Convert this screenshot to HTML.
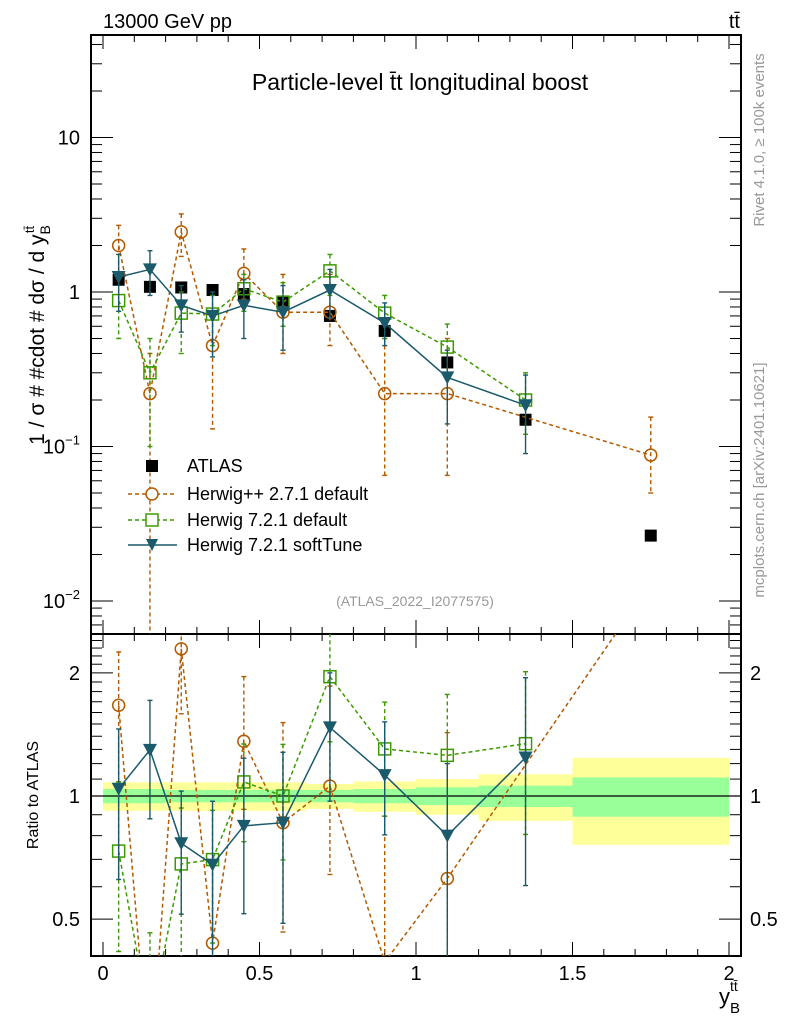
<!DOCTYPE html>
<html><head><meta charset="utf-8"><style>
html,body{margin:0;padding:0;background:#fff;overflow:hidden;width:786px;height:1024px}
svg{display:block}
svg text{font-family:"Liberation Sans",sans-serif}
</style></head><body>
<svg id="c" width="786" height="1024" xmlns="http://www.w3.org/2000/svg">
<rect width="786" height="1024" fill="#fff"/>
<g id="bands"></g><g id="grid"></g><g id="marks"></g>
<text x="103" y="28" font-size="20">13000 GeV pp</text>
<text x="740" y="28" font-size="20" text-anchor="end">tt̄</text>
<text x="420" y="90" font-size="23" text-anchor="middle">Particle-level t̄t longitudinal boost</text>
<text x="415" y="606" font-size="14" fill="#999" text-anchor="middle">(ATLAS_2022_I2077575)</text>
<text transform="translate(44,335) rotate(-90)" font-size="21" text-anchor="middle">1 / σ # #cdot # dσ / d y<tspan font-size="14" dy="6">B</tspan><tspan font-size="13" dy="-16" dx="-8">tt̄</tspan></text>
<text transform="translate(38,795) rotate(-90)" font-size="16" text-anchor="middle">Ratio to ATLAS</text>
<text transform="translate(764,140) rotate(-90)" font-size="15" fill="#999" text-anchor="middle">Rivet 4.1.0, ≥ 100k events</text>
<text transform="translate(764,480) rotate(-90)" font-size="15" fill="#999" text-anchor="middle">mcplots.cern.ch [arXiv:2401.10621]</text>
<text x="740" y="1004" font-size="22" text-anchor="end">y<tspan font-size="15" dy="9">B</tspan><tspan font-size="14" dy="-22" dx="-10">tt̄</tspan></text>
<g id="legend">
<rect x="146" y="460" width="12" height="12" fill="#000"/>
<text x="187" y="472" font-size="18">ATLAS</text>
<line x1="128" y1="494" x2="177" y2="494" stroke="#b35a00" stroke-width="1.4" stroke-dasharray="4,3"/>
<circle cx="152" cy="494" r="6" fill="#fff" stroke="#b35a00" stroke-width="1.5"/>
<text x="187" y="500" font-size="18">Herwig++ 2.7.1 default</text>
<line x1="128" y1="520" x2="177" y2="520" stroke="#3c9a00" stroke-width="1.4" stroke-dasharray="4,3"/>
<rect x="146" y="514" width="12" height="12" fill="#fff" stroke="#3c9a00" stroke-width="1.5"/>
<text x="187" y="526" font-size="18">Herwig 7.2.1 default</text>
<line x1="128" y1="545" x2="177" y2="545" stroke="#1b5a6a" stroke-width="1.6"/>
<path d="M146,539 L158,539 L152,551 Z" fill="#1b5a6a"/>
<text x="187" y="551" font-size="18">Herwig 7.2.1 softTune</text>
</g>
</svg>
<script>
const xs=[0.05,0.15,0.25,0.35,0.45,0.575,0.725,0.9,1.1,1.35,1.75];
const binEdges=[0,0.1,0.2,0.3,0.4,0.5,0.65,0.8,1.0,1.2,1.5,2.0];
const atlas=[1.2,1.08,1.07,1.03,0.97,0.86,0.70,0.56,0.35,0.149,0.0265];
const bandTot=[0.08,0.08,0.08,0.08,0.08,0.08,0.07,0.085,0.10,0.13,0.24];
const bandStat=[0.04,0.04,0.035,0.035,0.035,0.035,0.035,0.04,0.05,0.06,0.11];
const hppX=[0.05,0.15,0.25,0.35,0.45,0.575,0.725,0.9,1.1,1.75];
const hpp=[2.0,0.22,2.45,0.45,1.32,0.74,0.74,0.22,0.22,0.088];
const hppUp=[2.7,0.4,3.2,0.7,1.9,1.3,1.3,0.5,0.5,0.155];
const hppDn=[1.3,0.004,1.7,0.13,0.9,0.4,0.45,0.065,0.065,0.05];
const h7X=[0.05,0.15,0.25,0.35,0.45,0.575,0.725,0.9,1.1,1.35];
const h7=[0.88,0.30,0.73,0.72,1.05,0.86,1.37,0.73,0.44,0.20];
const h7Up=[1.3,0.5,1.0,0.95,1.3,1.15,1.75,0.95,0.62,0.3];
const h7Dn=[0.5,0.1,0.4,0.45,0.75,0.6,0.95,0.5,0.28,0.12];
const stX=[0.05,0.15,0.25,0.35,0.45,0.575,0.725,0.9,1.1,1.35];
const st=[1.25,1.4,0.82,0.70,0.82,0.74,1.03,0.63,0.28,0.185];
const stUp=[1.75,1.85,1.1,1.0,1.2,1.1,1.4,0.85,0.42,0.29];
const stDn=[0.75,0.95,0.55,0.38,0.5,0.42,0.68,0.45,0.14,0.09];
const xTicks=[0,0.5,1,1.5,2];const xTickLabels=["0","0.5","1","1.5","2"];
const NS="http://www.w3.org/2000/svg";
const L=91,R=741,T=35,M=634,B=956;
const X=v=>103+v*313;
const Y=v=>292-154.5*Math.log10(v);
const RY=v=>796-409*Math.log10(v);
function el(tag,a,p){const e=document.createElementNS(NS,tag);for(const k in a)e.setAttribute(k,a[k]);document.getElementById(p).appendChild(e);return e;}
for(let i=0;i<atlas.length;i++){
 const x1=X(binEdges[i]),x2=X(binEdges[i+1]);
 const b=el('rect',{x:x1,y:RY(1+bandTot[i]),width:x2-x1,height:RY(1-bandTot[i])-RY(1+bandTot[i]),fill:'#ffff99'},'bands');
 
 
 const g=el('rect',{x:x1,y:RY(1+bandStat[i]),width:x2-x1,height:RY(1-bandStat[i])-RY(1+bandStat[i]),fill:'#99ff99'},'bands');
 
 
}
el('line',{x1:L,x2:R,y1:RY(1),y2:RY(1),stroke:'#000','stroke-width':1.3},'bands');
for(const [t,b] of [[T,M],[M,B]]) el('rect',{x:L,y:t,width:R-L,height:b-t,fill:'none',stroke:'#000','stroke-width':2},'grid');
for(let k=0;k<=20;k++){const v=k/10,x=X(v),len=(k%5==0)?14:7;
 for(const [t,b] of [[T,M],[M,B]]){el('line',{x1:x,x2:x,y1:b,y2:b-len,stroke:'#000','stroke-width':1},'grid');el('line',{x1:x,x2:x,y1:t,y2:t+len,stroke:'#000','stroke-width':1},'grid');}}
xTicks.forEach((v,i)=>{const t=el('text',{x:X(v),y:980,'font-size':20,'text-anchor':'middle'},'grid');t.textContent=xTickLabels[i];
 
 });
for(let d=-3;d<=1;d++)for(let m=1;m<=9;m++){const v=m*Math.pow(10,d),y=Y(v);if(y<T||y>M)continue;const len=m==1?22:11;
 el('line',{x1:L,x2:L+len,y1:y,y2:y,stroke:'#000','stroke-width':1},'grid');el('line',{x1:R,x2:R-len,y1:y,y2:y,stroke:'#000','stroke-width':1},'grid');}
[[10,"10"],[1,"1"]].forEach(([v,s])=>{const t=el('text',{x:80,y:Y(v)+7,'font-size':20,'text-anchor':'end'},'grid');t.textContent=s;});
[[0.1,"−1"],[0.01,"−2"]].forEach(([v,s])=>{const t=el('text',{x:80,y:Y(v)+7,'font-size':20,'text-anchor':'end'},'grid');t.innerHTML='10<tspan font-size="13" dy="-9">'+s+'</tspan>';});
for(let k=4;k<=24;k++){const v=k/10,y=RY(v);if(y<M||y>B)continue;const major=(k==5||k==10||k==20);const len=major?22:11;
 el('line',{x1:L,x2:L+len,y1:y,y2:y,stroke:'#000','stroke-width':1},'grid');el('line',{x1:R,x2:R-len,y1:y,y2:y,stroke:'#000','stroke-width':1},'grid');}
[[2,"2"],[1,"1"],[0.5,"0.5"]].forEach(([v,s])=>{const a=el('text',{x:80,y:RY(v)+7,'font-size':20,'text-anchor':'end'},'grid');a.textContent=s;const b=el('text',{x:750,y:RY(v)+7,'font-size':20},'grid');b.textContent=s;});
const defs=el('defs',{},'marks');
const c1=document.createElementNS(NS,'clipPath');c1.id='cm';defs.appendChild(c1);const r1=document.createElementNS(NS,'rect');r1.setAttribute('x',L);r1.setAttribute('y',T);r1.setAttribute('width',R-L);r1.setAttribute('height',M-T);c1.appendChild(r1);
const c2=document.createElementNS(NS,'clipPath');c2.id='cr';defs.appendChild(c2);const r2=document.createElementNS(NS,'rect');r2.setAttribute('x',L);r2.setAttribute('y',M);r2.setAttribute('width',R-L);r2.setAttribute('height',B-M);c2.appendChild(r2);
const gm=el('g',{'clip-path':'url(#cm)',id:'gm'},'marks');const gr=el('g',{'clip-path':'url(#cr)',id:'gr'},'marks');
function atlasAt(x){return atlas[xs.indexOf(x)];}
function series(xv,vals,up,dn,col,dash,marker,name){
 for(const [pid,f,norm] of [['gm',Y,false],['gr',RY,true]]){
  const n=x=>norm?atlasAt(x):1;
  const pts=xv.map((x,i)=>X(x)+','+f(vals[i]/n(x))).join(' ');
  const pl=el('polyline',{points:pts,fill:'none',stroke:col,'stroke-width':1.5,'stroke-dasharray':dash},pid);
  
  
  xv.forEach((x,i)=>{const px=X(x),yu=f(up[i]/n(x)),yd=f(dn[i]/n(x)),yv=f(vals[i]/n(x));
   if(norm&&yv<M)return;
   el('line',{x1:px,x2:px,y1:yu,y2:yd,stroke:col,'stroke-width':1.4,'stroke-dasharray':dash},pid);
   el('line',{x1:px-2.5,x2:px+2.5,y1:yu,y2:yu,stroke:col,'stroke-width':1.4},pid);
   el('line',{x1:px-2.5,x2:px+2.5,y1:yd,y2:yd,stroke:col,'stroke-width':1.4},pid);
   let m;
   if(marker=='c')m=el('circle',{cx:px,cy:yv,r:6,fill:'none',stroke:col,'stroke-width':1.5},pid);
   else if(marker=='s')m=el('rect',{x:px-6,y:yv-6,width:12,height:12,fill:'none',stroke:col,'stroke-width':1.5},pid);
   else m=el('path',{d:`M${px-7},${yv-6} L${px+7},${yv-6} L${px},${yv+7} Z`,fill:col},pid);
   
   
  });
 }
}
xs.forEach((x,i)=>{const r=el('rect',{x:X(x)-6,y:Y(atlas[i])-6,width:12,height:12,fill:'#000'},'gm');
 
 });
series(hppX,hpp,hppUp,hppDn,'#b35a00','4,3','c','herwigpp');
series(h7X,h7,h7Up,h7Dn,'#3c9a00','4,3','s','herwig7-default');
series(stX,st,stUp,stDn,'#1b5a6a','none','t','herwig7-softtune');
</script>
</body></html>
